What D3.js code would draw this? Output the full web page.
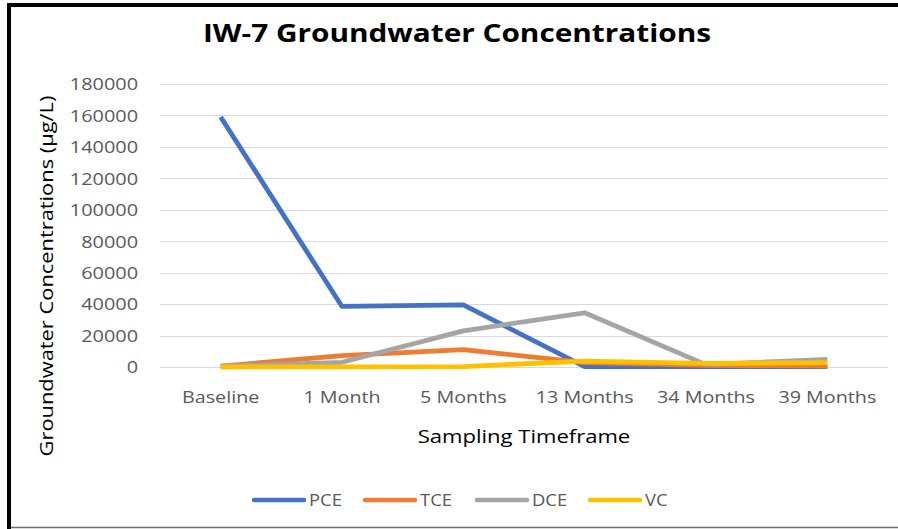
<!DOCTYPE html>
<html><head><meta charset="utf-8">
<script src="https://cdn.jsdelivr.net/npm/d3@7"></script>
<style>
body{margin:0;background:#fff;}
svg{display:block;font-family:"Open Sans",sans-serif;}
</style></head>
<body><svg id="c" width="898" height="529"></svg>
<script>
const categories = ["Baseline","1 Month","5 Months","13 Months","34 Months","39 Months"];
const seriesNames = ["PCE","TCE","DCE","VC"];
const pce = [159000, 38500, 39500, 300, 200, 300];
const tce = [500, 7300, 11000, 2800, 1000, 600];
const dce = [500, 3000, 23000, 34500, 1500, 4800];
const vc  = [0, 100, 300, 3800, 2300, 2800];
const yTicks = [0,20000,40000,60000,80000,100000,120000,140000,160000,180000];
const colors = ["#4472C4","#ED7D31","#A5A5A5","#FFC000"];
const title = "IW-7 Groundwater Concentrations";
const xTitle = "Sampling Timeframe";
const yTitle = "Groundwater Concentrations (µg/L)";

(function(){
const series = [pce,tce,dce,vc].map((v,i)=>({name:seriesNames[i],values:v,color:colors[i]}));
const svg = d3.select("#c");
const W=898,H=529;
const pl=160,pr=888,pt=84,pb=367;
const txt="#595959";

// frame
svg.append("rect").attr("x",0).attr("y",0).attr("width",W).attr("height",H).attr("fill","#fff");
svg.append("rect").attr("x",7).attr("y",3).attr("width",W-7).attr("height",4).attr("fill","#000");
svg.append("rect").attr("x",7).attr("y",3).attr("width",4).attr("height",H-3).attr("fill","#000");
svg.append("line").attr("x1",11).attr("x2",W).attr("y1",527.5).attr("y2",527.5).attr("stroke","#6f6f6f").attr("stroke-width",1.5);

const x = d3.scaleBand().domain(categories).range([pl,pr]);
const y = d3.scaleLinear().domain([0,180000]).range([pb,pt]);
const cx = c => x(c)+x.bandwidth()/2;

// gridlines
svg.append("g").selectAll("line").data(yTicks).join("line")
  .attr("x1",pl).attr("x2",pr)
  .attr("y1",d=>Math.round(y(d))+0.5).attr("y2",d=>Math.round(y(d))+0.5)
  .attr("stroke","#D9D9D9").attr("stroke-width",1);

// y axis labels
const ya = svg.append("g").attr("transform",`translate(${pl-22},0)`)
  .call(d3.axisLeft(y).tickValues(yTicks).tickFormat(d3.format("d")).tickSize(0).tickPadding(0));
ya.select(".domain").remove();
ya.selectAll("text").attr("class","st").attr("data-k",1.17).attr("fill",txt).attr("font-size",17).attr("font-family","Open Sans").attr("dy","0.34em");

// x axis labels
const xa = svg.append("g").attr("transform",`translate(0,${pb})`)
  .call(d3.axisBottom(x).tickSize(0).tickPadding(0));
xa.select(".domain").remove();
xa.selectAll("text").attr("class","st").attr("data-k",1.16).attr("fill",txt).attr("font-size",17).attr("font-family","Open Sans").attr("dy",null).attr("y",36);

// lines
const line = d3.line().x((d,i)=>cx(categories[i])).y(d=>y(d));
svg.append("g").selectAll("path").data(series).join("path")
  .attr("d",d=>line(d.values)).attr("fill","none")
  .attr("stroke",d=>d.color).attr("stroke-width",4.8)
  .attr("stroke-linejoin","round").attr("stroke-linecap","butt");

// titles
svg.append("text").attr("class","st").attr("data-k",1.19).attr("x",457).attr("y",42).attr("text-anchor","middle")
  .attr("font-size",25).attr("font-weight","bold").attr("fill","#000").text(title);
svg.append("text").attr("class","st").attr("data-k",1.16).attr("x",524).attr("y",443).attr("text-anchor","middle")
  .attr("font-size",19).attr("fill","#000").text(xTitle);
svg.append("text").attr("class","st").attr("data-k",1.15).attr("transform","translate(53,276) rotate(-90)").attr("text-anchor","middle")
  .attr("font-size",19).attr("fill","#000").text(yTitle);

// legend
const legX = [252,363,475,588];
const lg = svg.append("g").selectAll("g").data(series).join("g")
  .attr("transform",(d,i)=>`translate(${legX[i]},500)`);
lg.append("line").attr("x1",2).attr("x2",52).attr("y1",0).attr("y2",0)
  .attr("stroke",d=>d.color).attr("stroke-width",4.5).attr("stroke-linecap","round");
lg.append("text").attr("class","st").attr("data-k",1.15).attr("x",57).attr("y",6).attr("font-size",16).attr("fill",txt).text(d=>d.name);

// horizontal stretch of text to match reference proportions
svg.selectAll("text.st").each(function(){
  const k=+this.getAttribute("data-k")||1.15;
  const l=this.getComputedTextLength();
  d3.select(this).attr("textLength",l*k).attr("lengthAdjust","spacingAndGlyphs");
});
})();
</script></body></html>
